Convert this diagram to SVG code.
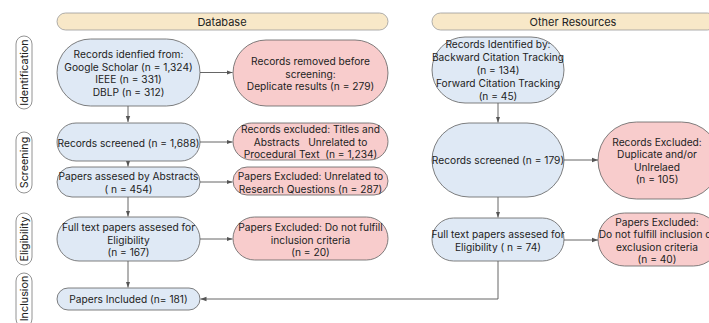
<svg xmlns="http://www.w3.org/2000/svg" width="709" height="323" viewBox="0 0 709 323">
<defs>
<marker id="ah" viewBox="0 0 6 6" refX="6" refY="3" markerWidth="6" markerHeight="6" markerUnits="userSpaceOnUse" orient="auto">
<path d="M0,0.8 L6,3 L0,5.2 Z" fill="#555"/>
</marker>
<style>
text{font-family:Inter,"Noto Sans","Liberation Sans",sans-serif;fill:#222;text-anchor:middle;dominant-baseline:central}
.t{font-size:10.2px}
.h{font-size:11px}
.s{font-size:10.8px}
.blue{fill:#dfe9f5;stroke:#5f5f5f;stroke-width:0.8}
.pink{fill:#f8cccc;stroke:#5f5f5f;stroke-width:0.8}
.hdr{fill:#f8e8c8;stroke:#9a9a9a;stroke-width:0.8}
.side{fill:#fff;stroke:#777;stroke-width:0.8}
.c{fill:none;stroke:#555;stroke-width:0.9;marker-end:url(#ah)}
</style>
</defs>
<rect width="709" height="323" fill="#fff"/>

<g id="hdr-database"><rect class="hdr" x="57" y="13" width="331" height="17" rx="8.5"/><text class="h" x="222" y="21.5">Database</text></g>
<g id="hdr-other"><rect class="hdr" x="432" y="13" width="284" height="17" rx="8.5"/><text class="h" x="573" y="21.5">Other Resources</text></g>

<g id="side-identification"><rect class="side" x="16" y="36" width="16" height="73" rx="8"/><text class="s" transform="translate(24.5,72.5) rotate(-90)">Identification</text></g>
<g id="side-screening"><rect class="side" x="16" y="132" width="16" height="61" rx="8"/><text class="s" transform="translate(24.5,162.5) rotate(-90)">Screening</text></g>
<g id="side-eligibility"><rect class="side" x="16" y="213" width="16" height="52" rx="8"/><text class="s" transform="translate(24.5,239) rotate(-90)">Eligibility</text></g>
<g id="side-inclusion"><rect class="side" x="16" y="273" width="16" height="54" rx="8"/><text class="s" transform="translate(24.5,298.5) rotate(-90)">Inclusion</text></g>

<g id="connectors">
<line class="c" x1="128" y1="106" x2="128" y2="122"/>
<line class="c" x1="128" y1="161" x2="128" y2="166.5"/>
<line class="c" x1="128" y1="197" x2="128" y2="216.5"/>
<line class="c" x1="128" y1="261" x2="128" y2="287.5"/>
<line class="c" x1="200" y1="72.5" x2="232.5" y2="72.5"/>
<line class="c" x1="200" y1="142" x2="232.5" y2="142"/>
<line class="c" x1="200" y1="182" x2="232.5" y2="182"/>
<line class="c" x1="200" y1="239" x2="232.5" y2="239"/>
<line class="c" x1="498" y1="103" x2="498" y2="122.5"/>
<line class="c" x1="498" y1="197" x2="498" y2="217.5"/>
<line class="c" x1="564" y1="160" x2="598" y2="160"/>
<line class="c" x1="564" y1="240" x2="598" y2="240"/>
<polyline class="c" points="498,261 498,299 200.5,299"/>
</g>

<g id="n-db-identified"><rect class="blue" x="57" y="39" width="143" height="67" rx="33.5"/>
<text class="t" x="128.5" y="54">Records idenfied from:</text>
<text class="t" x="128.5" y="66.5">Google Scholar (n = 1,324)</text>
<text class="t" x="128.5" y="79">IEEE (n = 331)</text>
<text class="t" x="128.5" y="91.5">DBLP (n = 312)</text></g>

<g id="n-db-removed"><rect class="pink" x="233" y="40" width="155" height="66" rx="33"/>
<text class="t" x="310.5" y="61">Records removed before</text>
<text class="t" x="310.5" y="73.5">screening:</text>
<text class="t" x="310.5" y="86">Deplicate results (n = 279)</text></g>

<g id="n-db-screened"><rect class="blue" x="57" y="123" width="143" height="38" rx="19"/>
<text class="t" x="128.5" y="143">Records screened (n = 1,688)</text></g>

<g id="n-db-excluded1"><rect class="pink" x="233" y="123" width="155" height="37" rx="18.5"/>
<text class="t" x="310.5" y="129" xml:space="preserve">Records excluded: Titles and</text>
<text class="t" x="310.5" y="141.5" xml:space="preserve">Abstracts   Unrelated to</text>
<text class="t" x="310.5" y="154" xml:space="preserve">Procedural Text  (n = 1,234)</text></g>

<g id="n-db-abstracts"><rect class="blue" x="57" y="167" width="143" height="30" rx="15"/>
<text class="t" x="128.5" y="176">Papers assesed by Abstracts</text>
<text class="t" x="128.5" y="189">( n = 454)</text></g>

<g id="n-db-excluded2"><rect class="pink" x="233" y="167" width="155" height="28" rx="14"/>
<text class="t" x="310.5" y="175.5">Papers Excluded: Unrelated to</text>
<text class="t" x="310.5" y="188.5">Research Questions (n = 287)</text></g>

<g id="n-db-fulltext"><rect class="blue" x="57" y="217" width="143" height="44" rx="22"/>
<text class="t" x="128.5" y="227">Full text papers assesed for</text>
<text class="t" x="128.5" y="239.5">Eligibility</text>
<text class="t" x="128.5" y="252">(n = 167)</text></g>

<g id="n-db-excluded3"><rect class="pink" x="233" y="217" width="155" height="43" rx="21.5"/>
<text class="t" x="310.5" y="227">Papers Excluded: Do not fulfill</text>
<text class="t" x="310.5" y="239.5">inclusion criteria</text>
<text class="t" x="310.5" y="252">(n = 20)</text></g>

<g id="n-included"><rect class="blue" x="57" y="288" width="143" height="22" rx="11"/>
<text class="t" x="128.5" y="299">Papers Included (n= 181)</text></g>

<g id="n-or-identified"><rect class="blue" x="432" y="37" width="132" height="66" rx="33"/>
<text class="t" x="498" y="44">Records Identified by:</text>
<text class="t" x="498" y="57">Backward Citation Tracking</text>
<text class="t" x="498" y="70">(n = 134)</text>
<text class="t" x="498" y="83">Forward Citation Tracking</text>
<text class="t" x="498" y="96">(n = 45)</text></g>

<g id="n-or-screened"><rect class="blue" x="432" y="123" width="132" height="74" rx="37"/>
<text class="t" x="498" y="160">Records screened (n = 179)</text></g>

<g id="n-or-excluded1"><rect class="pink" x="598" y="122" width="122" height="77" rx="38.5"/>
<text class="t" x="657" y="141.5">Records Excluded:</text>
<text class="t" x="657" y="154">Duplicate and/or</text>
<text class="t" x="657" y="166.5">Unlrelaed</text>
<text class="t" x="657" y="179">(n = 105)</text></g>

<g id="n-or-fulltext"><rect class="blue" x="432" y="218" width="132" height="43" rx="21.5"/>
<text class="t" x="498" y="233.5">Full text papers assesed for</text>
<text class="t" x="498" y="246.5">Eligibility ( n = 74)</text></g>

<g id="n-or-excluded2"><rect class="pink" x="598" y="213" width="122" height="53" rx="26.5"/>
<text class="t" x="657" y="221.5">Papers Excluded:</text>
<text class="t" x="657" y="234">Do not fulfill inclusion or</text>
<text class="t" x="657" y="246.5">exclusion criteria</text>
<text class="t" x="657" y="259">(n = 40)</text></g>
</svg>
